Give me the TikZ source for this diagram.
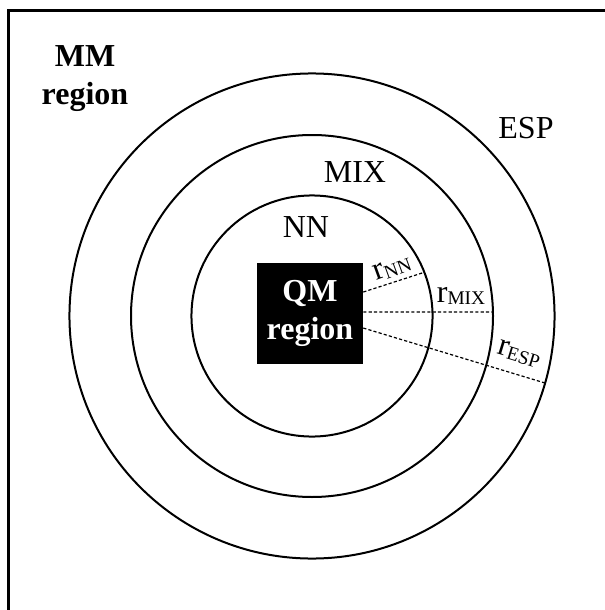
\documentclass[tikz,border=0pt]{standalone}
\usepackage{fontspec}
\setmainfont{Liberation Serif}
\tikzset{
  ring/.style={draw, line width=1.5pt},
  lbl/.style={font=\fontsize{24}{28.5}\selectfont, inner sep=0pt},
  boldlbl/.style={font=\fontsize{24}{28.5}\selectfont\bfseries, inner sep=0pt, align=center},
  rad/.style={line width=0.9pt, dash pattern=on 2.4pt off 1.6pt},
}
\newcommand{\rsub}[1]{r\raisebox{-0.15ex}{\fontsize{14.5}{14.5}\selectfont #1}}
\begin{document}
\begin{tikzpicture}[x=0.75pt,y=-0.75pt]
\useasboundingbox (0,0) rectangle (605,610);
\draw[line width=2.25pt] (8.5,610) -- (8.5,10.5) -- (605,10.5);
\coordinate (c) at (312,316);
\draw[ring] (c) circle[radius=90.4pt];
\draw[ring] (c) circle[radius=135.75pt];
\draw[ring] (c) circle[radius=181.9pt];
\node[boldlbl, fill=black, text=white, minimum width=79.5pt, minimum height=75.75pt] (qm) at (310,313.5) {QM\\region};
\node[boldlbl] (mm) at (85,79) {MM\\region};
\node[lbl] (nn) at (306,227) {NN};
\node[lbl] (mix) at (355,172) {MIX};
\node[lbl] (esp) at (526,128) {ESP};
\coordinate (eNN) at (424.3,272.3);
\coordinate (eMIX) at (493,312);
\coordinate (eESP) at (545,383);
\draw[rad] ([yshift=16.1pt]qm.east) -- (eNN);
\draw[rad] ([yshift=1.1pt]qm.east) -- (eMIX);
\draw[rad] ([yshift=-10.9pt]qm.east) -- (eESP);
\node[lbl, rotate=20] (rnn) at (392,268) {\rsub{NN}};
\node[lbl] (rmix) at (461,296) {\rsub{MIX}};
\node[lbl, rotate=-17] (resp) at (519,354) {\rsub{ESP}};
\end{tikzpicture}
\end{document}
